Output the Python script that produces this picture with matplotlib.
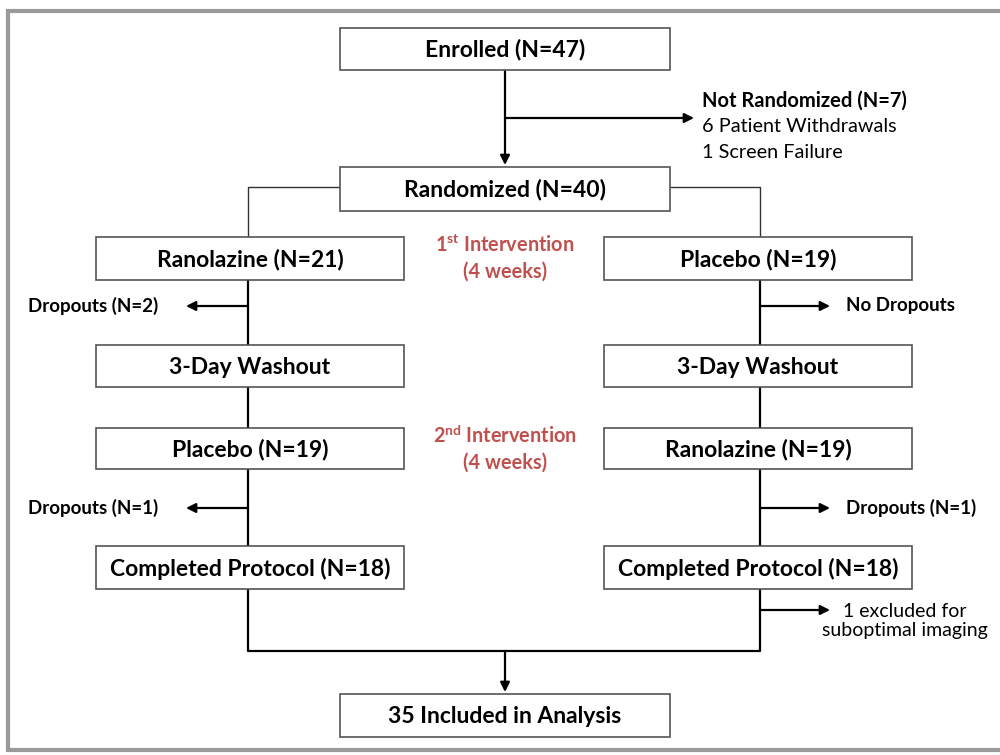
import matplotlib.pyplot as plt
from matplotlib.patches import Rectangle

plt.rcParams["font.family"] = ["Lato", "DejaVu Sans"]

# Flowchart content
enrolled_n = 47
not_randomized_n = 7
not_randomized_reasons = ["6 Patient Withdrawals", "1 Screen Failure"]
randomized_n = 40
left_arm = ["Ranolazine (N=21)", "3-Day Washout", "Placebo (N=19)", "Completed Protocol (N=18)"]
right_arm = ["Placebo (N=19)", "3-Day Washout", "Ranolazine (N=19)", "Completed Protocol (N=18)"]
left_drops = ["Dropouts (N=2)", "Dropouts (N=1)"]
right_drops = ["No Dropouts", "Dropouts (N=1)"]
excluded_note = "1 excluded for\nsuboptimal imaging"
analysis_n = 35

RED = "#C0504D"
EDGE = "#555555"

fig = plt.figure(figsize=(10, 7.55), dpi=100)
ax = fig.add_axes([0, 0, 1, 1])
ax.set_xlim(0, 1000)
ax.set_ylim(755, 0)
ax.axis("off")

# outer frame (right side is cut off)
ax.plot([1000, 8, 8, 1000], [11, 11, 750, 750], color="#9a9a9a", lw=3, solid_joinstyle="miter")


def box(x0, y0, x1, y1, text, size=16.5):
    ax.add_patch(Rectangle((x0, y0), x1 - x0, y1 - y0, fill=True, fc="white",
                           ec=EDGE, lw=1.2, zorder=3))
    ax.text((x0 + x1) / 2, (y0 + y1) / 2 + 1, text, ha="center", va="center",
            fontsize=size, fontweight="bold", color="black", zorder=4)


def line(xs, ys, lw=1.6, color="black"):
    ax.plot(xs, ys, color=color, lw=lw, zorder=2, solid_capstyle="butt")


def arrow(x0, y0, x1, y1):
    ax.annotate("", xy=(x1, y1), xytext=(x0, y0),
                arrowprops=dict(arrowstyle="-|>", color="black", lw=1.6,
                                mutation_scale=14, shrinkA=0, shrinkB=0), zorder=2)


cx, lx, rx = 505, 248, 760

# top section
box(340, 28, 670, 70, f"Enrolled (N={enrolled_n})")
arrow(cx, 70, cx, 165)
arrow(cx, 118, 694, 118)
ax.text(702, 101, f"Not Randomized (N={not_randomized_n})", ha="left", va="center",
        fontsize=14.5, fontweight="bold")
for i, t in enumerate(not_randomized_reasons):
    ax.text(702, 127 + 26 * i, t, ha="left", va="center", fontsize=14.3)

box(340, 167, 670, 211, f"Randomized (N={randomized_n})")
line([340, lx, lx], [187, 187, 237], lw=1.0, color="#333333")
line([670, rx, rx], [187, 187, 237], lw=1.0, color="#333333")

# arms
rows = [(237, 280), (345, 387), (428, 469), (546, 589)]
for (y0, y1), lt, rt in zip(rows, left_arm, right_arm):
    box(96, y0, 404, y1, lt)
    box(604, y0, 912, y1, rt)
for (ya, yb), (yc, yd) in zip(rows[:-1], rows[1:]):
    line([lx, lx], [yb, yc])
    line([rx, rx], [yb, yc])

# dropouts
drop_y = [306, 508]
for y, lt, rt in zip(drop_y, left_drops, right_drops):
    arrow(lx, y, 186, y)
    ax.text(28, y, lt, ha="left", va="center", fontsize=13.5, fontweight="bold")
    arrow(rx, y, 830, y)
    ax.text(846, y, rt, ha="left", va="center", fontsize=13.5, fontweight="bold")

# intervention labels
ax.text(cx, 258, "1$^{\\mathregular{st}}$ Intervention\n(4 weeks)", ha="center", va="center",
        fontsize=14.3, fontweight="bold", color=RED, linespacing=1.35)
ax.text(cx, 448, "2$^{\\mathregular{nd}}$ Intervention\n(4 weeks)", ha="center", va="center",
        fontsize=14.3, fontweight="bold", color=RED, linespacing=1.35)

# bottom merge
arrow(rx, 610, 830, 610)
ax.text(905, 621, excluded_note, ha="center", va="center", fontsize=14, linespacing=1.2)
line([lx, lx, rx, rx], [589, 651, 651, 589])
arrow(cx, 651, cx, 692)
box(340, 694, 670, 737, f"{analysis_n} Included in Analysis")

fig.savefig("out.png", dpi=100)
